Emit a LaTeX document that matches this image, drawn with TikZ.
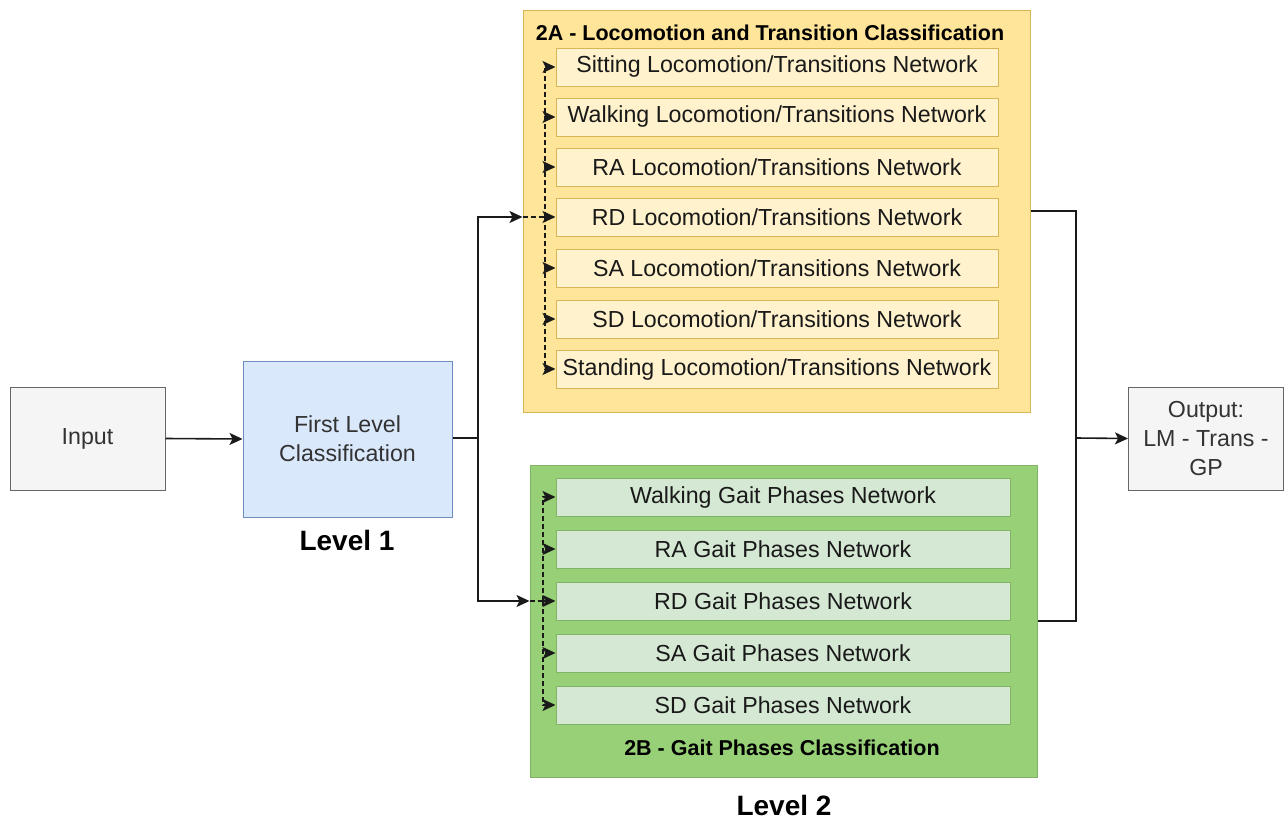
\documentclass[tikz,border=0pt]{standalone}
\usepackage{fontspec}
\setmainfont{Liberation Sans}
\usetikzlibrary{arrows.meta}
\definecolor{gfill}{HTML}{F5F5F5}
\definecolor{gline}{HTML}{666666}
\definecolor{bfill}{HTML}{DAE8FC}
\definecolor{bline}{HTML}{6C8EBF}
\definecolor{yfill}{HTML}{FFE599}
\definecolor{yline}{HTML}{D6B656}
\definecolor{yin}{HTML}{FFF2CC}
\definecolor{grfill}{HTML}{97D077}
\definecolor{grline}{HTML}{82B366}
\definecolor{grin}{HTML}{D5E8D4}
\definecolor{txt}{HTML}{333333}
\definecolor{ln}{HTML}{1A1A1A}
\tikzset{
  base/.style={draw, line width=1pt, inner sep=0pt, align=center, font=\fontsize{23.2}{29}\selectfont},
  graybox/.style={base, fill=gfill, draw=gline, text=txt, minimum width=155pt, minimum height=103pt},
  bluebox/.style={base, fill=bfill, draw=bline, text=txt, minimum width=209pt, minimum height=156pt},
  ybig/.style={base, fill=yfill, draw=yline, minimum width=507pt, minimum height=402pt},
  gbig/.style={base, fill=grfill, draw=grline, minimum width=507pt, minimum height=312pt},
  yinner/.style={base, fill=yin, draw=yline, text=black!90, minimum width=442pt, minimum height=38pt},
  ginner/.style={base, fill=grin, draw=grline, text=black!90, minimum width=454pt, minimum height=38pt},
  title/.style={font=\fontsize{21.5}{26}\selectfont\bfseries, inner sep=0pt},
  level/.style={font=\fontsize{28}{32}\selectfont\bfseries, inner sep=0pt},
  tipstyle/.style={-{Stealth[length=13pt,width=12pt,inset=3pt]}},
  conn/.style={draw=ln, line width=1.6pt},
  arr/.style={conn, tipstyle},
  darr/.style={draw=ln, line width=1.5pt, dash pattern=on 5pt off 3pt, tipstyle},
  dline/.style={draw=ln, line width=1.5pt, dash pattern=on 5pt off 3pt}
}
\begin{document}
\begin{tikzpicture}[x=1pt,y=1pt]
\useasboundingbox (0,0) rectangle (1286,-819);

\node[graybox] (in) at (87.5,-438.5) {Input};
\node[bluebox] (fl) at (347.5,-439) {First Level\\Classification};
\node[level] (l1) at (347,-540) {Level 1};

\node[ybig] (a2) at (776.5,-211) {};
\node[title] (a2t) at (770,-33) {2A - Locomotion and Transition Classification};
\node[yinner] (s1) at (777,-67) {Sitting Locomotion/Transitions Network};
\node[yinner] (s2) at (777,-117) {Walking Locomotion/Transitions Network};
\node[yinner] (s3) at (777,-167) {RA Locomotion/Transitions Network};
\node[yinner] (s4) at (777,-217) {RD Locomotion/Transitions Network};
\node[yinner] (s5) at (777,-268) {SA Locomotion/Transitions Network};
\node[yinner] (s6) at (777,-319) {SD Locomotion/Transitions Network};
\node[yinner] (s7) at (777,-369) {Standing Locomotion/Transitions Network};

\node[gbig] (b2) at (783.5,-621) {};
\node[ginner] (g1) at (783,-497) {Walking Gait Phases Network};
\node[ginner] (g2) at (783,-549) {RA Gait Phases Network};
\node[ginner] (g3) at (783,-601) {RD Gait Phases Network};
\node[ginner] (g4) at (783,-653) {SA Gait Phases Network};
\node[ginner] (g5) at (783,-705) {SD Gait Phases Network};
\node[title] (b2t) at (782,-748) {2B - Gait Phases Classification};
\node[level] (l2) at (784,-805) {Level 2};

\node[graybox] (out) at (1206,-438.5) {Output:\\LM - Trans -\\GP};

% connectors
\draw[arr] (in.east) -- (fl.west);
\coordinate (split) at (478,-438);
\coordinate (in2a) at (a2.west |- s4.west);
\coordinate (in2b) at (b2.west |- g3.west);
\coordinate (j2a) at (545,-217);
\coordinate (j2b) at (543,-601);
\draw[conn] (fl.east |- split) -- (split);
\draw[arr] (split) |- (in2a);
\draw[arr] (split) |- (in2b);

\draw[dline] (in2a) -- (j2a);
\foreach \n in {s1,s2,s3,s4,s5,s6,s7} \draw[darr] (j2a) |- (\n.west);
\draw[dline] (in2b) -- (j2b);
\foreach \n in {g1,g2,g3,g4,g5} \draw[darr] (j2b) |- (\n.west);

\coordinate (merge) at (1076,-438);
\draw[conn] (a2.east) -| (merge);
\draw[conn] (b2.east) -| (merge);
\draw[arr] (merge) -- (out.west);
\end{tikzpicture}
\end{document}
